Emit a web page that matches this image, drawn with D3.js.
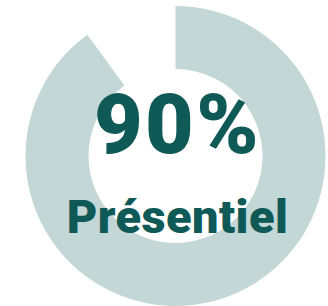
<!DOCTYPE html>
<html><head><meta charset="utf-8">
<script src="https://cdn.jsdelivr.net/npm/d3@7"></script>
<style>html,body{margin:0;padding:0;background:#fff;}svg{display:block;}</style>
</head><body>
<script>
const categories = ["Présentiel", "Autre"];
const values = [90, 10];
const labels = ["90%", "Présentiel"];

const W = 328, H = 306;
const cx = 175.5, cy = 156, rOuter = 150, rInner = 87;

const svg = d3.select("body").append("svg").attr("width", W).attr("height", H);
const g = svg.append("g").attr("transform", `translate(${cx},${cy})`);

const pie = d3.pie().sort(null).value(d => d)(values);
const arc = d3.arc().innerRadius(rInner).outerRadius(rOuter);

g.selectAll("path").data(pie).join("path")
  .attr("d", arc)
  .attr("fill", (d, i) => i === 0 ? "#c4d7d7" : "none");

g.append("text").text(labels[0])
  .attr("x", 2).attr("y", -3)
  .attr("text-anchor", "middle")
  .attr("font-family", "Roboto").attr("font-weight", 900)
  .attr("font-size", 84).attr("letter-spacing", 2.5).attr("fill", "#0f5957");

g.append("text").text(labels[1])
  .attr("x", 2).attr("y", 77)
  .attr("text-anchor", "middle")
  .attr("font-family", "Roboto").attr("font-weight", 900)
  .attr("font-size", 47).attr("letter-spacing", 0.4).attr("fill", "#0f5957");
</script>
</body></html>
